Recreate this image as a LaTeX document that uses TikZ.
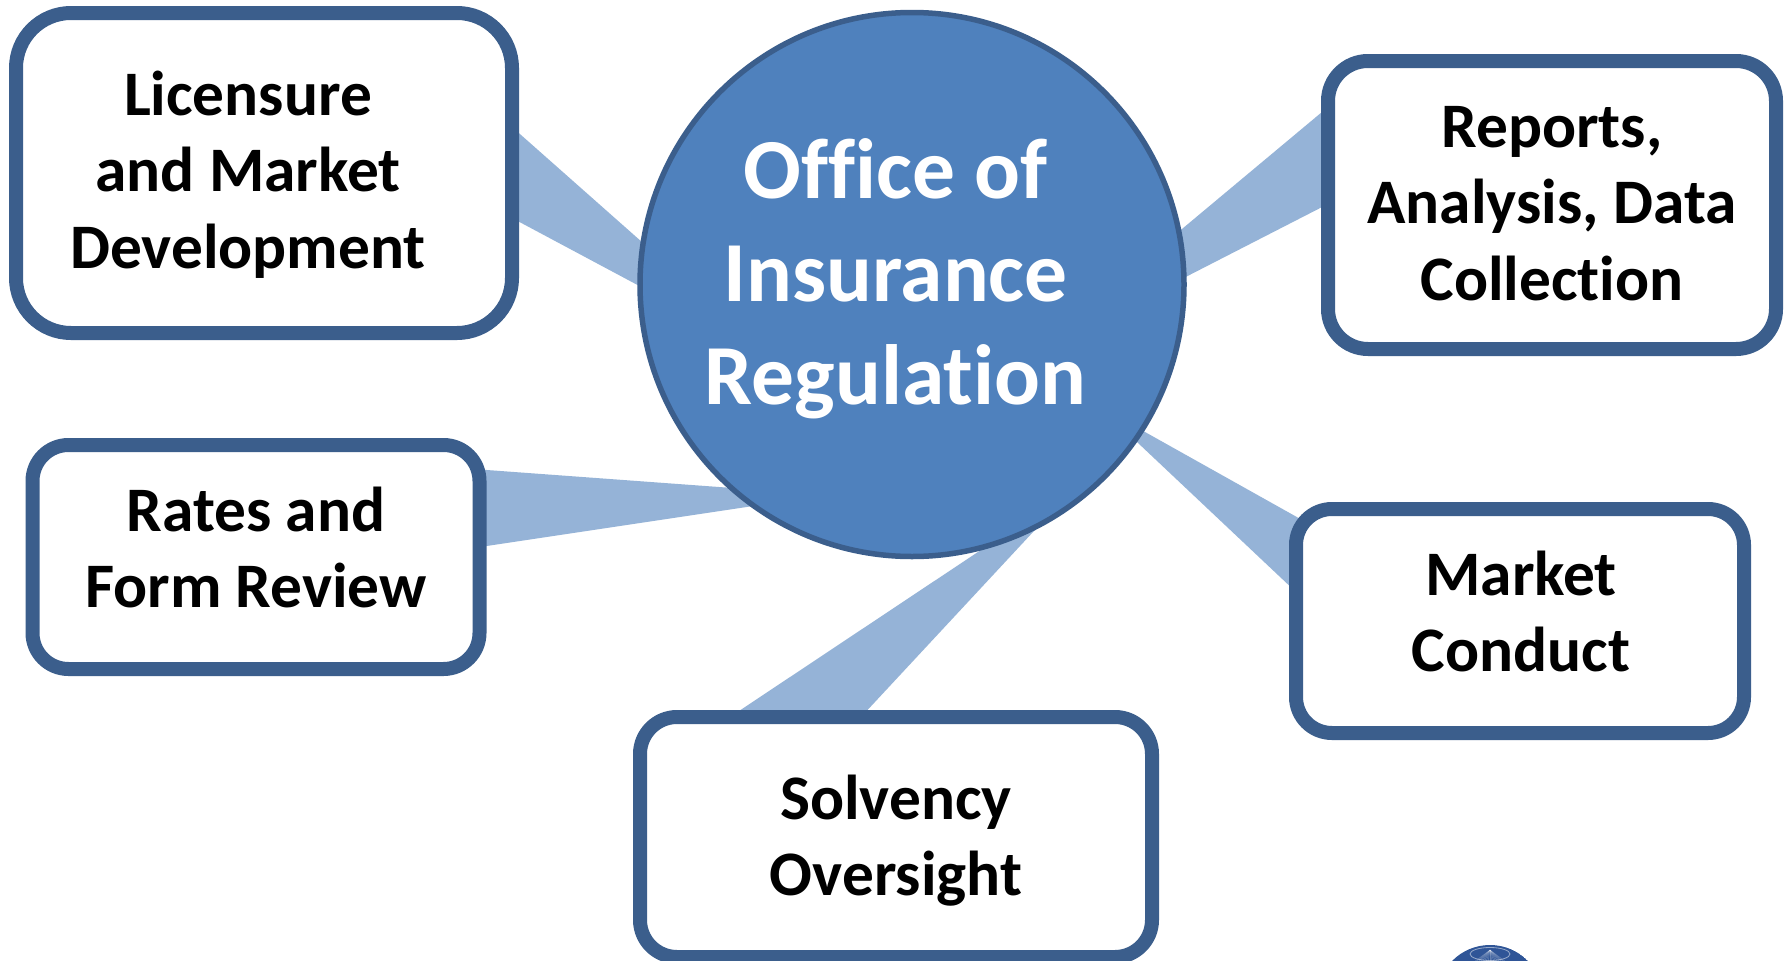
\documentclass[tikz,border=0pt]{standalone}
\usepackage{fontspec}
\setmainfont{Carlito}[Ligatures=CommonOff]
\usetikzlibrary{calc,backgrounds}
\definecolor{edgeblue}{HTML}{3B5E8C}
\definecolor{hubblue}{HTML}{4F81BD}
\definecolor{wedgeblue}{HTML}{95B3D7}
\definecolor{globeblue}{HTML}{2F5597}
\tikzset{
  roundbox/.style={draw=edgeblue,fill=white,line width=14pt,rectangle,inner sep=0pt},
  boxtext/.style={font=\fontsize{63.4}{76.5}\selectfont\bfseries,text=black,align=center,inner sep=0pt,anchor=base},
  hubtext/.style={font=\fontsize{85.5}{103}\selectfont\bfseries,text=white,align=center,inner sep=0pt,anchor=base},
  wedge/.style={fill=wedgeblue,draw=none}
}
\begin{document}
\begin{tikzpicture}[x=1pt,y=-1pt]
\useasboundingbox (0,0) rectangle (1786,961);
% hub
\node[circle,draw=edgeblue,fill=hubblue,line width=5.5pt,minimum size=544pt,inner sep=0pt] (hub) at (912,284.5) {};
% boxes
\node[roundbox,rounded corners=55pt,minimum width=496pt,minimum height=320pt] (lic) at (264,173) {};
\node[roundbox,rounded corners=36pt,minimum width=447pt,minimum height=224pt] (rates) at (256,557) {};
\node[roundbox,rounded corners=37pt,minimum width=512pt,minimum height=240pt] (solv) at (896,837) {};
\node[roundbox,rounded corners=36pt,minimum width=448pt,minimum height=224pt] (mkt) at (1520,621) {};
\node[roundbox,rounded corners=40pt,minimum width=448pt,minimum height=288pt] (rep) at (1552,205) {};
% labels
\node[hubtext] (hubl) at (895.5,404.5) {Office of\\Insurance\\Regulation};
\node[boxtext] (licl) at (248,268) {Licensure\\and Market\\Development};
\node[boxtext] (ratesl) at (256,607.5) {Rates and\\Form Review};
\node[boxtext] (solvl) at (896,895.5) {Solvency\\Oversight};
\node[boxtext] (mktl) at (1521,671.5) {Market\\Conduct};
\node[boxtext] (repl) at (1552,300) {Reports,\\Analysis, Data\\Collection};
% globe fragment
\begin{scope}
\clip (1490,998) circle (53);
\fill[globeblue] (1490,998) circle (53);
\foreach \a in {-80,-70,...,80}{
  \draw[white,opacity=.25,line width=.5pt] (1490,950) -- ++({\a*1},{60});
}
\draw[white,opacity=.5,line width=.8pt] (1490,954) ellipse (20 and 6.5);
\end{scope}
% wedges
\begin{pgfonlayer}{background}
\fill[white] (0,0) rectangle (1786,961);
\fill[wedge] ($(lic.center)+(248,-46)$) -- ($(hub.center)+(-252,-26.5)$) -- ($(hub.center)+(-252,12.5)$) -- ($(lic.center)+(248,45)$) -- cycle;
\fill[wedge] ($(rep.center)+(-224,-98)$) -- ($(hub.center)+(258,-45.5)$) -- ($(hub.center)+(258,0.5)$) -- ($(rep.center)+(-224,-1)$) -- cycle;
\fill[wedge] ($(mkt.center)+(-200,-91)$) -- ($(hub.center)+(208,133.5)$) -- ($(hub.center)+(208,141.5)$) -- ($(mkt.center)+(-224,-29)$) -- cycle;
\fill[wedge] ($(solv.center)+(-35,-120)$) -- ($(hub.center)+(148,218.5)$) -- ($(hub.center)+(108,239.5)$) -- ($(solv.center)+(-166,-120)$) -- cycle;
\fill[wedge] ($(rates.center)+(224,-87.5)$) -- ($(hub.center)+(-152,205.5)$) -- ($(hub.center)+(-132,217.5)$) -- ($(rates.center)+(224,-10)$) -- cycle;
\end{pgfonlayer}
\end{tikzpicture}
\end{document}
